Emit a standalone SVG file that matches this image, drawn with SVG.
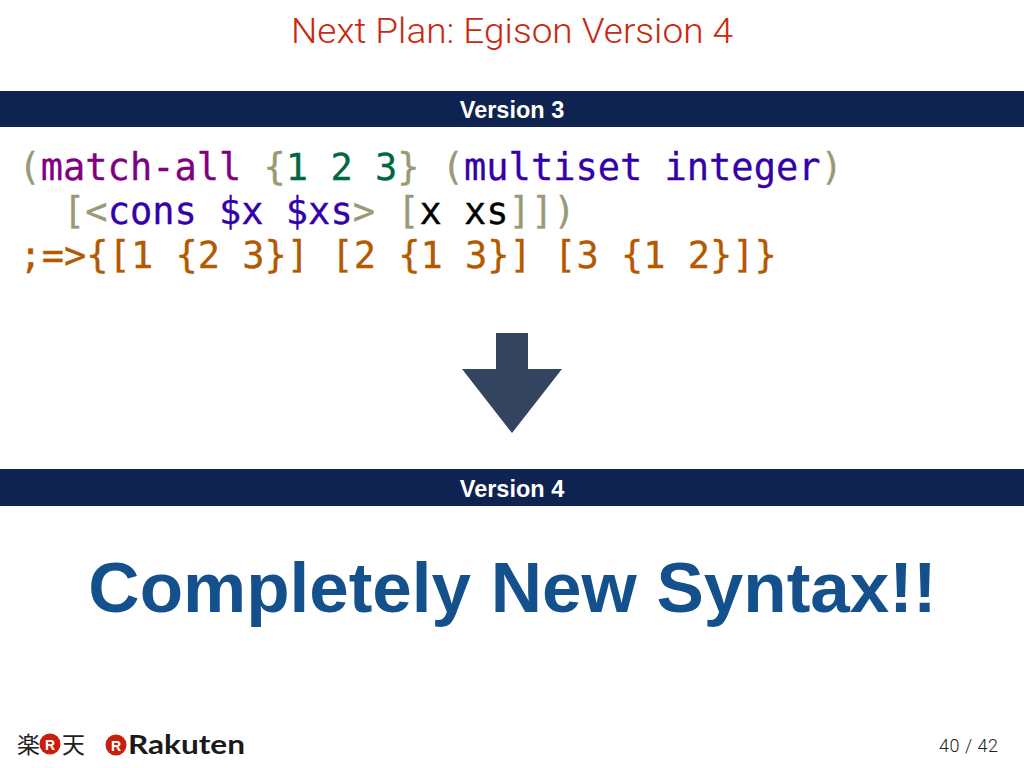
<svg xmlns="http://www.w3.org/2000/svg" width="1024" height="768" viewBox="0 0 1024 768">
<style>
.bar{fill:#0f2350}
.hd{font:bold 23.500px "Liberation Sans",Arial,sans-serif;fill:#fff;text-anchor:middle}
.code{font-family:"DejaVu Sans Mono",monospace;font-size:37px;white-space:pre;stroke-width:0.3px}
.p{fill:#999977;stroke:#999977}.k{fill:#800080;stroke:#800080}.n{fill:#006644;stroke:#006644}.t{fill:#3300aa;stroke:#3300aa}.v{fill:#000;stroke:#000}.r{fill:#b35900;stroke:#b35900}
.logo{font-family:"Noto Sans CJK JP",sans-serif;font-size:23px;fill:#222}
</style>
<rect width="1024" height="768" fill="#fff"/>
<text id="title" x="291" y="43" textLength="442" lengthAdjust="spacingAndGlyphs" font-family="Roboto,Liberation Sans,Arial,sans-serif" font-weight="300" font-size="35.500" fill="#c8290f">Next Plan: Egison Version 4</text>
<g id="v3"><rect class="bar" x="0" y="91" width="1024" height="36"/><text class="hd" x="512" y="117.500">Version 3</text></g>
<g id="code">
<text class="code" x="18.500" y="180.200" xml:space="preserve"><tspan class="p">(</tspan><tspan class="k">match-all</tspan> <tspan class="p">{</tspan><tspan class="n">1 2 3</tspan><tspan class="p">}</tspan> <tspan class="p">(</tspan><tspan class="t">multiset integer</tspan><tspan class="p">)</tspan></text>
<text class="code" x="18.500" y="224.200" xml:space="preserve">  <tspan class="p">[&lt;</tspan><tspan class="t">cons $x $xs</tspan><tspan class="p">&gt; [</tspan><tspan class="v">x xs</tspan><tspan class="p">]])</tspan></text>
<text class="code r" x="19.500" y="268.200" xml:space="preserve">;=&gt;{[1 {2 3}] [2 {1 3}] [3 {1 2}]}</text>
</g>
<polygon id="arrow" points="496,333 528,333 528,369 562,369 512,433 462,369 496,369" fill="#34445f"/>
<g id="v4"><rect class="bar" x="0" y="469" width="1024" height="37"/><text class="hd" x="512" y="496.500">Version 4</text></g>
<text id="headline" x="512.500" y="612" text-anchor="middle" font-family="Liberation Sans,Arial,sans-serif" font-weight="bold" font-size="71" fill="#14508c">Completely New Syntax!!</text>
<g id="logo">
<text class="logo" x="17" y="753">楽</text>
<circle cx="50" cy="744" r="10.500" fill="#c8200c"/><text x="50" y="749.500" text-anchor="middle" font-family="Liberation Sans,sans-serif" font-weight="bold" font-size="14" fill="#fff">R</text>
<text class="logo" x="62" y="753">天</text>
<circle cx="116" cy="745" r="10.500" fill="#c8200c"/><text x="116" y="750.500" text-anchor="middle" font-family="Liberation Sans,sans-serif" font-weight="bold" font-size="14" fill="#fff">R</text>
<text x="128" y="754" textLength="117" lengthAdjust="spacingAndGlyphs" font-family="Lato,sans-serif" font-weight="bold" font-size="26" fill="#1a1a1a">Rakuten</text>
</g>
<text id="page" x="939" y="752" textLength="59" font-family="Roboto,Liberation Sans,Arial,sans-serif" font-weight="300" font-size="18" fill="#222">40 / 42</text>
</svg>
